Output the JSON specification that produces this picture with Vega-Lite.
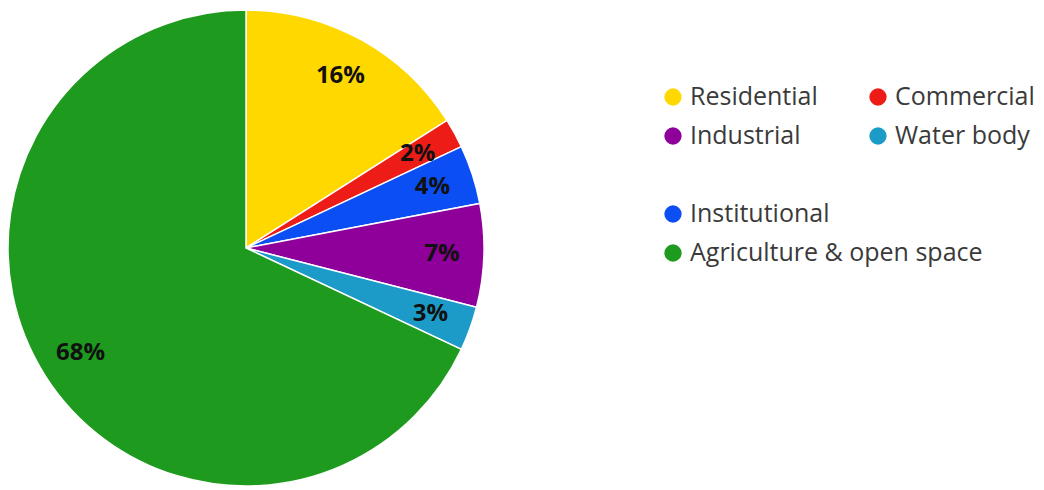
{
  "$schema": "https://vega.github.io/schema/vega-lite/v6.json",
  "padding": 0,
  "spacing": 0,
  "background": "white",
  "config": {"view": {"stroke": null}},
  "datasets": {
    "landuse": [
      {"category": "Residential", "share": 16, "pct": "16%", "order": 1, "col": "a", "row": "r1"},
      {"category": "Commercial", "share": 2, "pct": "2%", "order": 2, "col": "b", "row": "r1"},
      {"category": "Institutional", "share": 4, "pct": "4%", "order": 3, "col": "a", "row": "r3"},
      {"category": "Industrial", "share": 7, "pct": "7%", "order": 4, "col": "a", "row": "r2"},
      {"category": "Water body", "share": 3, "pct": "3%", "order": 5, "col": "b", "row": "r2"},
      {"category": "Agriculture & open space", "share": 68, "pct": "68%", "order": 6, "col": "a", "row": "r4"}
    ]
  },
  "hconcat": [
    {
      "width": 492,
      "height": 496,
      "data": {"name": "landuse"},
      "encoding": {
        "theta": {"field": "share", "type": "quantitative", "stack": true},
        "order": {"field": "order", "type": "quantitative"},
        "color": {
          "field": "category",
          "type": "nominal",
          "scale": {
            "domain": ["Residential", "Commercial", "Institutional", "Industrial", "Water body", "Agriculture & open space"],
            "range": ["#FFD800", "#EE1C16", "#0B4EF4", "#8E0099", "#1D9BC8", "#1E9B1E"]
          },
          "legend": null
        }
      },
      "layer": [
        {"mark": {"type": "arc", "outerRadius": 238, "stroke": "white", "strokeWidth": 1.5}},
        {
          "mark": {"type": "text", "radius": 196, "fontSize": 24, "fontWeight": "bold", "font": "Open Sans", "align": "center", "baseline": "middle"},
          "encoding": {
            "text": {"field": "pct", "type": "nominal"},
            "color": {"value": "#111111"}
          }
        }
      ]
    },
    {
      "width": 552,
      "height": 490,
      "data": {"name": "landuse"},
      "encoding": {
        "x": {"field": "col", "type": "nominal", "scale": {"type": "point", "domain": ["a", "b"], "range": [181, 386], "padding": 0}, "axis": null},
        "y": {"field": "row", "type": "nominal", "scale": {"type": "point", "domain": ["r1", "r2", "gap", "r3", "r4"], "range": [97, 253], "padding": 0}, "axis": null}
      },
      "layer": [
        {
          "mark": {"type": "point", "filled": true, "size": 300, "shape": "circle", "opacity": 1},
          "encoding": {
            "color": {
              "field": "category",
              "type": "nominal",
              "scale": {
                "domain": ["Residential", "Commercial", "Institutional", "Industrial", "Water body", "Agriculture & open space"],
                "range": ["#FFD800", "#EE1C16", "#0B4EF4", "#8E0099", "#1D9BC8", "#1E9B1E"]
              },
              "legend": null
            }
          }
        },
        {
          "mark": {"type": "text", "align": "left", "baseline": "middle", "dx": 17, "fontSize": 25, "font": "Open Sans", "color": "#3a3a3a"},
          "encoding": {"text": {"field": "category", "type": "nominal"}}
        }
      ]
    }
  ]
}
